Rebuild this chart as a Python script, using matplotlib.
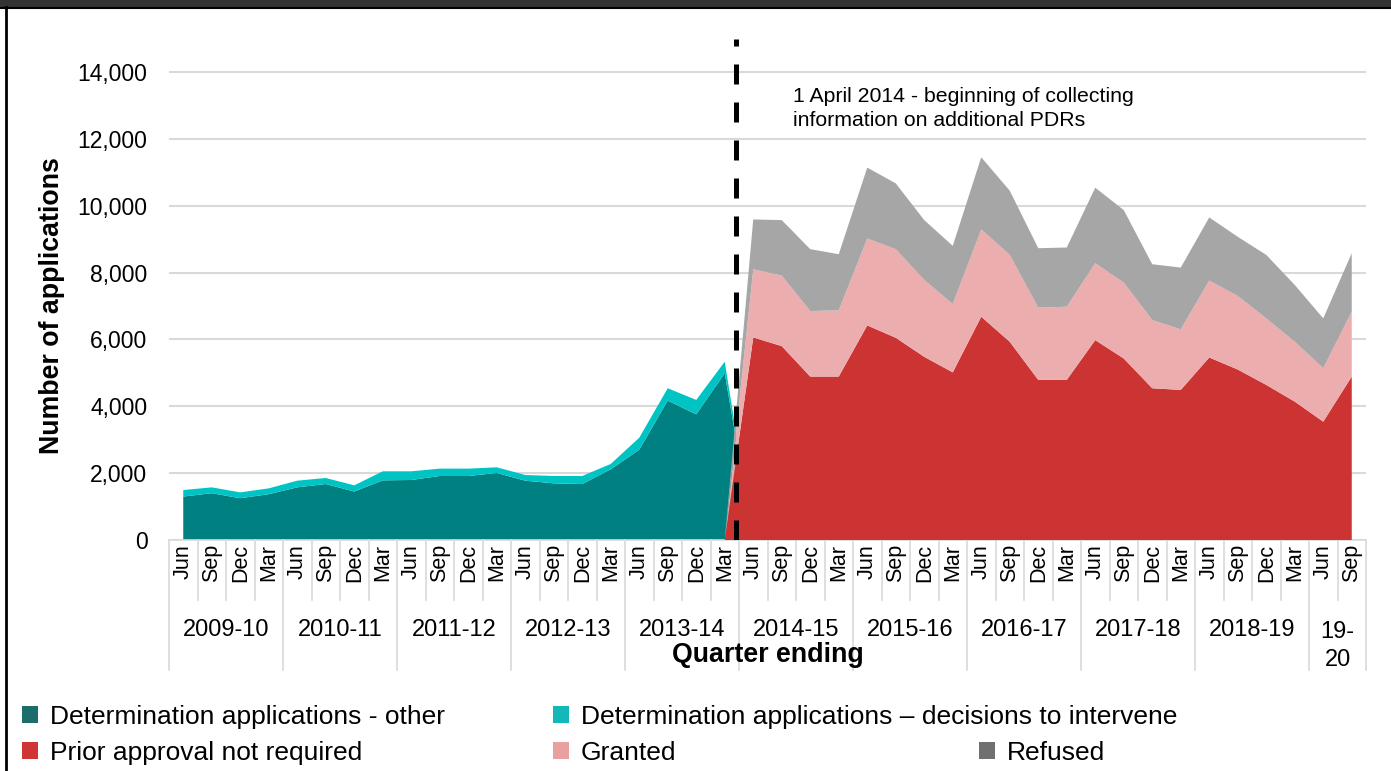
import numpy as np
import matplotlib
matplotlib.use("Agg")
import matplotlib.pyplot as plt
from matplotlib.patches import Patch, Rectangle
from matplotlib.lines import Line2D

plt.rcParams['font.family'] = ['Liberation Sans', 'DejaVu Sans']

# ---------------- data ----------------
months = ["Jun", "Sep", "Dec", "Mar"] * 10 + ["Jun", "Sep"]
years = ["2009-10", "2010-11", "2011-12", "2012-13", "2013-14",
         "2014-15", "2015-16", "2016-17", "2017-18", "2018-19", "19-\n20"]

# Determination applications (Jun 2009-10 .. Mar 2013-14)
det_other = [1300, 1400, 1250, 1370, 1575, 1675, 1450, 1785, 1795, 1915,
             1915, 2005, 1775, 1695, 1675, 2115, 2700, 4170, 3760, 4990]
det_intervene = [195, 175, 175, 175, 200, 180, 185, 270, 260, 220,
                 220, 170, 170, 220, 240, 160, 360, 370, 430, 345]

# Prior approvals (Jun 2014-15 .. Sep 2019-20)
not_required = [6060, 5800, 4890, 4890, 6420, 6050, 5480, 5015, 6680, 5930, 4790,
                4790, 5980, 5430, 4540, 4490, 5460, 5100, 4640, 4140, 3540, 4890]
granted = [2040, 2110, 1960, 1980, 2600, 2650, 2300, 2045, 2610, 2600, 2160,
           2190, 2300, 2270, 2040, 1810, 2300, 2200, 1990, 1790, 1600, 1940]
refused = [1490, 1660, 1850, 1680, 2120, 1970, 1790, 1740, 2160, 1920, 1780,
           1770, 2260, 2170, 1670, 1850, 1890, 1770, 1900, 1700, 1490, 1750]

labels = ["Determination applications - other",
          "Determination applications \u2013 decisions to intervene",
          "Prior approval not required", "Granted", "Refused"]
area_colors = ["#008080", "#00c4c4", "#cc3333", "#ebadad", "#a6a6a6"]
legend_colors = ["#1b6e6c", "#14b8b8", "#d03535", "#e8a0a0", "#707070"]

# ---------------- figure ----------------
W, H = 1391, 771
fig = plt.figure(figsize=(W / 100, H / 100), dpi=100)
ax_l, ax_r, ax_t, ax_b = 169, 1366, 38.6, 540
ax = fig.add_axes([ax_l / W, 1 - ax_b / H, (ax_r - ax_l) / W, (ax_b - ax_t) / H])

n_left = len(det_other)
n_right = len(not_required)
x_left = np.arange(n_left + 1)
x_right = np.arange(n_left - 1, n_left + n_right)

ax.stackplot(x_left,
             np.append(det_other, 0), np.append(det_intervene, 0),
             colors=area_colors[:2], linewidth=0, zorder=2)
ax.stackplot(x_right,
             np.insert(np.array(not_required, float), 0, 0),
             np.insert(np.array(granted, float), 0, 0),
             np.insert(np.array(refused, float), 0, 0),
             colors=area_colors[2:], linewidth=0, zorder=3)

ax.axvline(19.4, color="black", lw=3.6, ls=(0, (4, 3.6)), zorder=5)

ax.set_xlim(-0.5, n_left + n_right - 0.5)
ax.set_ylim(0, 15000)
ax.set_yticks(np.arange(0, 14001, 2000))
ax.set_yticklabels([f"{v:,}" for v in range(0, 14001, 2000)], fontsize=16.5)
ax.tick_params(axis="y", length=0, pad=15.5)
ax.yaxis.grid(True, color="#d9d9d9", lw=1.5, zorder=0)
ax.set_axisbelow(True)

ax.set_xticks(np.arange(len(months)))
ax.set_xticklabels(months, rotation=90, fontsize=15.5)
ax.tick_params(axis="x", length=0, pad=3)

for s in ["top", "right", "left"]:
    ax.spines[s].set_visible(False)
ax.spines["bottom"].set_color("#d9d9d9")
ax.spines["bottom"].set_linewidth(1.2)

ax_h = ax_b - ax_t
def yfrac(py):
    return (ax_b - py) / ax_h

trans = ax.get_xaxis_transform()
for k in range(len(months) + 1):
    xb = k - 0.5
    is_year = (k % 4 == 0) or k == len(months)
    ymin = yfrac(670) if is_year else yfrac(600)
    ax.plot([xb, xb], [ymin, 0], transform=trans, clip_on=False,
            color="#d9d9d9", lw=1.2)

for i, y in enumerate(years):
    if i < 10:
        xc = 4 * i + 1.5
        ax.text(xc, yfrac(630), y, transform=trans, ha="center", va="center",
                fontsize=17)
    else:
        xc = 40.5
        ax.text(xc, yfrac(646), y, transform=trans, ha="center", va="center",
                fontsize=17, linespacing=1.4)

ax.text(0.5, yfrac(655), "Quarter ending", transform=ax.transAxes,
        ha="center", va="center", fontsize=19.3, fontweight="bold")

ax.set_ylabel("Number of applications", fontsize=19.3, fontweight="bold")
ax.yaxis.set_label_coords((52 - ax_l) / (ax_r - ax_l), yfrac(306))
ax.yaxis.label.set_va("center")

ax.text(21.39, 12900, "1 April 2014 - beginning of collecting\ninformation on additional PDRs",
        ha="left", va="center", fontsize=15.3, linespacing=1.35, zorder=6)

# ---------------- legend ----------------
positions = [(22, 717), (553, 717), (22, 753), (553, 753), (979, 753)]
for lab, col, (px, py) in zip(labels, legend_colors, positions):
    leg = fig.legend(handles=[Patch(facecolor=col, edgecolor="none", label=lab)],
                     loc="center left", bbox_to_anchor=(px / W, 1 - py / H),
                     frameon=False, fontsize=19, borderpad=0, borderaxespad=0,
                     handlelength=0.6, handleheight=0.6, handletextpad=0.45)

# ---------------- frame ----------------
fig.add_artist(Rectangle((0, 1 - 7 / H), 1, 7 / H, transform=fig.transFigure,
                         facecolor="#333333", edgecolor="none"))
fig.add_artist(Line2D([0, 1], [1 - 7.5 / H, 1 - 7.5 / H], transform=fig.transFigure,
                      color="black", lw=1.5))
fig.add_artist(Line2D([6.5 / W, 6.5 / W], [0, 1 - 7 / H], transform=fig.transFigure,
                      color="black", lw=2))

fig.savefig("out.png", dpi=100, facecolor="white")
